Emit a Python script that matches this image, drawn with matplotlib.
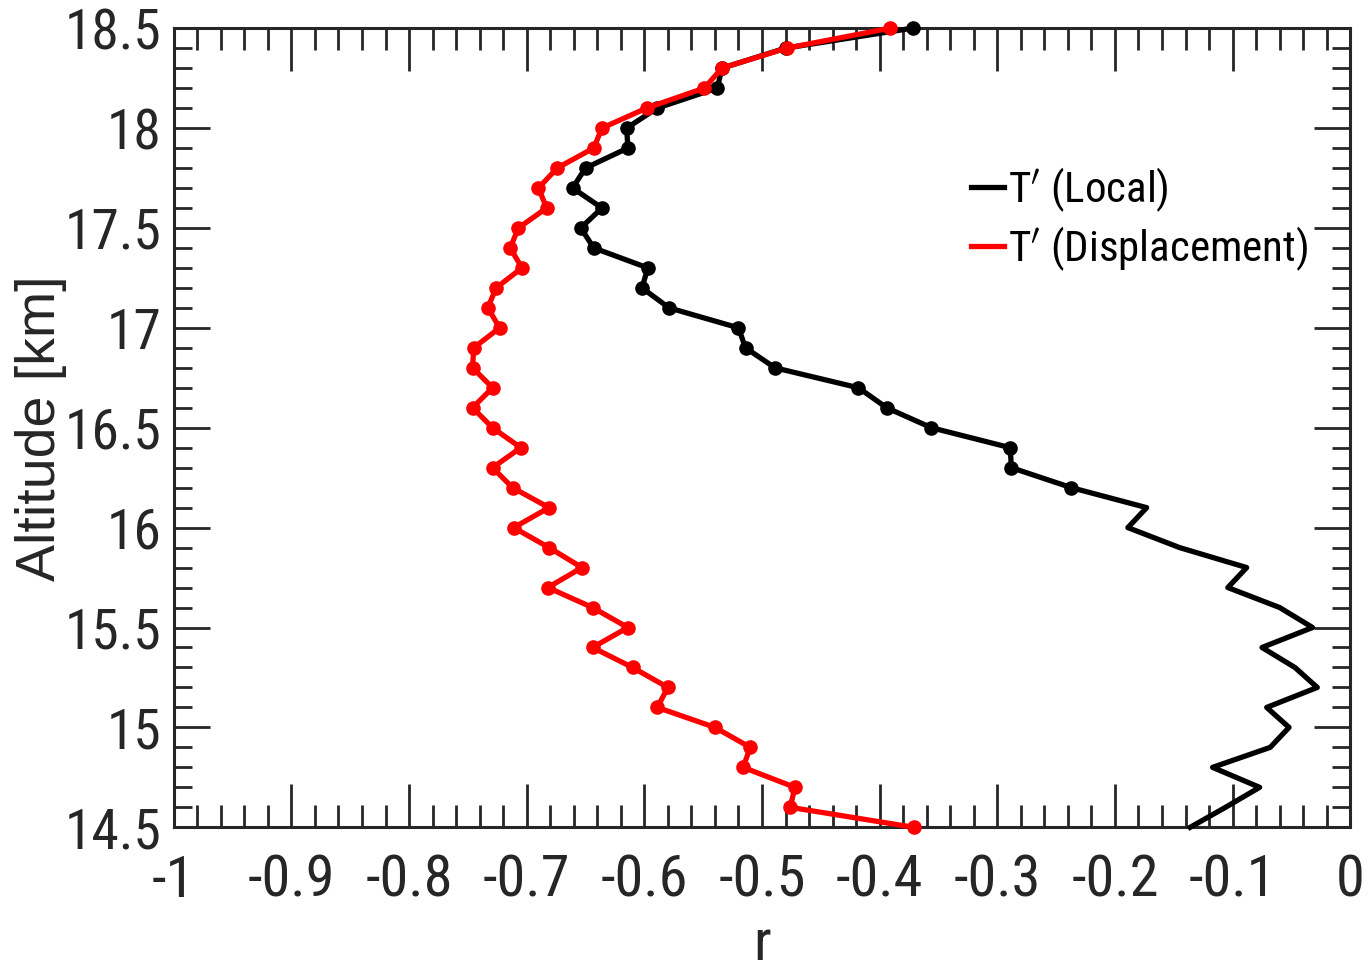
import matplotlib
matplotlib.use("Agg")
import matplotlib.pyplot as plt
from matplotlib import font_manager
from matplotlib.ticker import MultipleLocator, FixedLocator

altitude = [18.5, 18.4, 18.3, 18.2, 18.1, 18.0, 17.9, 17.8, 17.7, 17.6, 17.5,
            17.4, 17.3, 17.2, 17.1, 17.0, 16.9, 16.8, 16.7, 16.6, 16.5,
            16.4, 16.3, 16.2, 16.1, 16.0, 15.9, 15.8, 15.7, 15.6, 15.5,
            15.4, 15.3, 15.2, 15.1, 15.0, 14.9, 14.8, 14.7, 14.6, 14.5]

r_local = [-0.372, -0.480, -0.534, -0.538, -0.589, -0.615, -0.614, -0.650, -0.661, -0.636, -0.654,
           -0.643, -0.597, -0.602, -0.579, -0.520, -0.514, -0.489, -0.418, -0.394, -0.356,
           -0.289, -0.288, -0.237, -0.173, -0.189, -0.145, -0.088, -0.104, -0.060, -0.032,
           -0.075, -0.047, -0.028, -0.071, -0.052, -0.068, -0.117, -0.077, -0.106, -0.136]

r_disp = [-0.391, -0.479, -0.534, -0.549, -0.598, -0.636, -0.643, -0.674, -0.690, -0.683, -0.707,
          -0.714, -0.704, -0.726, -0.733, -0.723, -0.745, -0.746, -0.729, -0.746, -0.729,
          -0.705, -0.729, -0.712, -0.681, -0.711, -0.681, -0.653, -0.682, -0.644, -0.614,
          -0.644, -0.610, -0.580, -0.589, -0.540, -0.510, -0.516, -0.472, -0.476, -0.371]

# local series: markers only shown down to 16.2 km
local_marked = [i for i, a in enumerate(altitude) if a >= 16.2 - 1e-9]

x_ticks = [-1, -0.9, -0.8, -0.7, -0.6, -0.5, -0.4, -0.3, -0.2, -0.1, 0]
x_ticklabels = ["-1", "-0.9", "-0.8", "-0.7", "-0.6", "-0.5", "-0.4", "-0.3", "-0.2", "-0.1", "0"]
y_ticks = [14.5, 15, 15.5, 16, 16.5, 17, 17.5, 18, 18.5]
y_ticklabels = ["14.5", "15", "15.5", "16", "16.5", "17", "17.5", "18", "18.5"]

names = {f.name for f in font_manager.fontManager.ttflist}
def pick(cands):
    for c in cands:
        if c in names:
            return c
    return "DejaVu Sans"

main_font = pick(["Liberation Sans", "Arimo", "DejaVu Sans"])
narrow_font = pick(["Roboto Condensed", "Archivo Narrow", "PT Sans Narrow", "Liberation Sans"])

plt.rcParams["font.family"] = [main_font, "DejaVu Sans"]
plt.rcParams["axes.unicode_minus"] = False

axis_color = "#262626"
narrow = [narrow_font, main_font, "DejaVu Sans"]

fig = plt.figure(figsize=(13.68, 9.71), dpi=100)
ax = fig.add_axes([0.127, 0.148, 0.860, 0.823])

ax.plot(r_local, altitude, color="black", lw=3.8, marker="o", ms=9.5,
        markevery=local_marked, clip_on=False, zorder=3, label=r"T$'$ (Local)")
ax.plot(r_disp, altitude, color="red", lw=3.8, marker="o", ms=9.5,
        clip_on=False, zorder=4, label=r"T$'$ (Displacement)")

ax.set_xlim(-1, 0)
ax.set_ylim(14.5, 18.5)
ax.xaxis.set_major_locator(FixedLocator(x_ticks))
ax.set_xticklabels(x_ticklabels)
ax.yaxis.set_major_locator(FixedLocator(y_ticks))
ax.set_yticklabels(y_ticklabels)
ax.xaxis.set_minor_locator(MultipleLocator(0.02))
ax.yaxis.set_minor_locator(MultipleLocator(0.1))

ax.tick_params(axis="both", which="both", direction="in", top=True, right=True,
               color=axis_color, labelcolor=axis_color, width=2.0)
ax.tick_params(axis="x", which="major", length=31, pad=19)
ax.tick_params(axis="x", which="minor", length=16)
ax.tick_params(axis="y", which="major", length=26, pad=9)
ax.tick_params(axis="y", which="minor", length=13)
for lab in ax.get_xticklabels():
    lab.set_family(narrow)
    lab.set_fontsize(42)
for lab in ax.get_yticklabels():
    lab.set_family(narrow)
    lab.set_fontsize(40)

for s in ax.spines.values():
    s.set_color(axis_color)
    s.set_linewidth(2.2)

ax.set_xlabel("r", fontsize=42, color=axis_color, labelpad=6, family=narrow)
ax.set_ylabel("Altitude [km]", fontsize=40, color=axis_color)
ax.yaxis.set_label_coords(-0.091, 0.5)

leg = ax.legend(loc="upper left", bbox_to_anchor=(0.678, 0.828), frameon=False,
                handlelength=0.75, handletextpad=0.1, labelspacing=0.24,
                borderaxespad=0, borderpad=0,
                prop={"family": narrow, "size": 31})
for h in leg.legend_handles:
    h.set_marker("")

fig.savefig("out.png", dpi=100)
